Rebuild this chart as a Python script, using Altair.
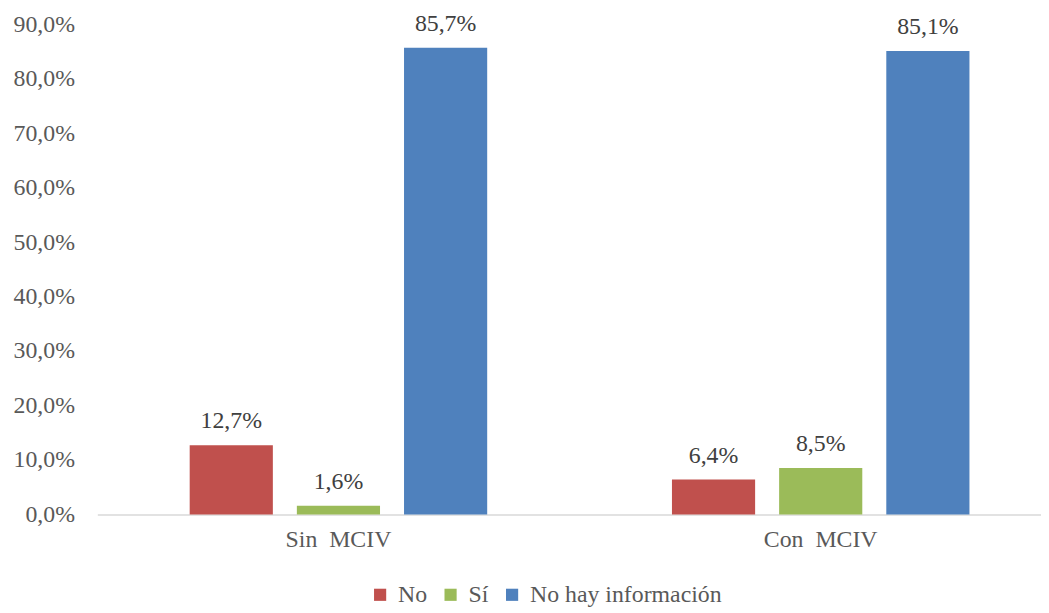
import altair as alt
import pandas as pd

groups = ["Sin\u00a0 MCIV", "Con\u00a0 MCIV"]
series = ["No", "Sí", "No hay información"]
sin_values = [12.7, 1.6, 85.7]
con_values = [6.4, 8.5, 85.1]
colors = ["#C0504D", "#9BBB59", "#4F81BD"]

rows = []
for g, vals in zip(groups, [sin_values, con_values]):
    for s, v in zip(series, vals):
        rows.append({"grupo": g, "serie": s, "valor": v})
df = pd.DataFrame(rows)

FONT = "Liberation Serif"
FS = 24

x = alt.X("grupo:N", sort=groups, title=None,
          scale=alt.Scale(range=[0, 972], paddingInner=0, paddingOuter=0),
          axis=alt.Axis(labelAngle=0, ticks=False, domainColor="#D9D9D9", domainWidth=1.5,
                        labelFont=FONT, labelFontSize=FS, labelColor="#595959", labelPadding=13))
xo = alt.XOffset("serie:N", sort=series,
                 scale=alt.Scale(paddingInner=0.224, paddingOuter=0.862))
y = alt.Y("valor:Q", title=None,
          scale=alt.Scale(domain=[0, 90], nice=False),
          axis=alt.Axis(values=[0, 10, 20, 30, 40, 50, 60, 70, 80, 90], grid=False, domain=False, ticks=False,
                        labelFont=FONT, labelFontSize=FS, labelColor="#595959", labelPadding=23,
                        labelExpr="replace(format(datum.value, '.1f'), '.', ',') + '%'"))

base = alt.Chart(df)

bars = base.mark_bar().encode(
    x=x, xOffset=xo, y=y,
    color=alt.Color("serie:N", sort=series,
                    scale=alt.Scale(domain=series, range=colors),
                    legend=alt.Legend(title=None, orient="none", direction="horizontal",
                                      legendX=273, legendY=563, symbolType="square", symbolSize=150,
                                      symbolStrokeWidth=0, labelFont=FONT, labelFontSize=FS,
                                      labelColor="#595959", labelOffset=6, columnPadding=11, padding=0,
                                      labelLimit=400)),
)

labels = base.transform_calculate(
    etiqueta="replace(format(datum.valor, '.1f'), '.', ',') + '%'"
).mark_text(baseline="bottom", dy=-12, font=FONT, fontSize=FS, color="#404040").encode(
    x=x, xOffset=xo, y=y, text="etiqueta:N"
)

chart = alt.layer(bars, labels).properties(
    width=951, height=494,
    autosize=alt.AutoSizeParams(type="none"),
    padding={"left": 90, "top": 14, "right": 0, "bottom": 96},
).configure_view(stroke=None)

chart.save("out.html", embed_options={"renderer": "svg", "actions": False})
